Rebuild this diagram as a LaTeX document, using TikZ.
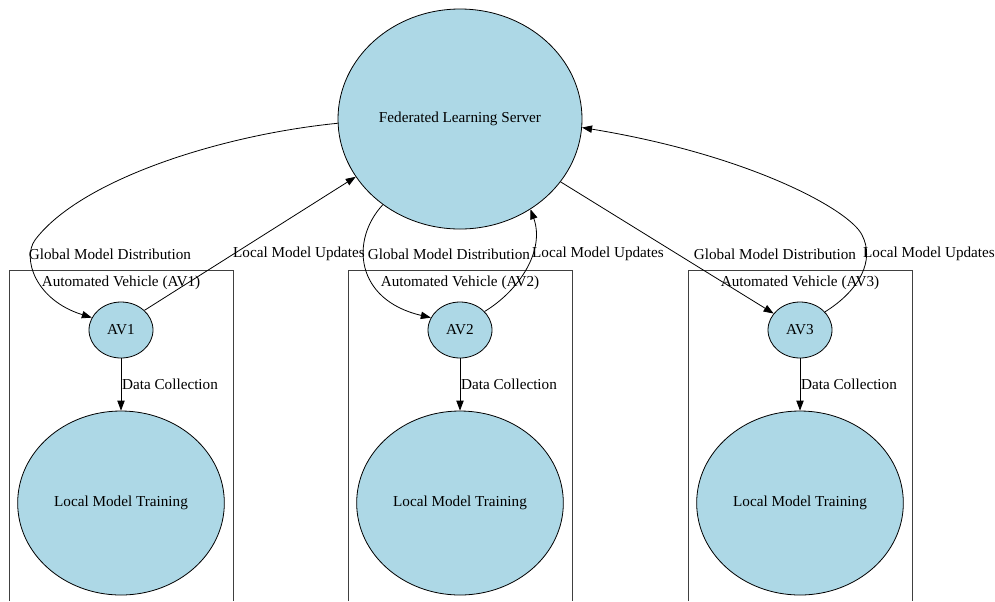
\documentclass[tikz,border=0pt]{standalone}
\usepackage{fontspec}
\setmainfont{Liberation Serif}
\usepackage{tikz}
\usetikzlibrary{arrows.meta,shapes.geometric}
\definecolor{nodeblue}{RGB}{173,216,230}
\tikzset{
    basenode/.style = {
        ellipse,
        align=center,
        draw=black,
        fill=nodeblue,
        line width=0.6pt,
        inner sep=0pt,
        font=\rmfamily\fontsize{11.4}{13}\selectfont
    },
    servernode/.style = {
        basenode,
        minimum width=183pt,
        minimum height=165pt
    },
    avnode/.style = {
        basenode,
        minimum width=48pt,
        minimum height=42pt
    },
    trainnode/.style = {
        basenode,
        minimum width=155pt,
        minimum height=138pt
    },
    edgelabel/.style = {
        inner sep=1pt,
        font=\rmfamily\fontsize{11.4}{13}\selectfont
    },
    flow/.style = {
        line width=0.6pt,
        -{Triangle[length=7.5pt,width=5.5pt]}
    },
    clusterbox/.style = {
        draw=black!75,
        line width=0.7pt
    }
}
\begin{document}
\begin{tikzpicture}[x=0.75pt, y=-0.75pt]
    \useasboundingbox (0,0) rectangle (995,601);
    % vehicle clusters
    \foreach \i/\cx in {1/121, 2/460, 3/800} {
        \draw[clusterbox] (\cx-112,601) -- (\cx-112,270) -- (\cx+112,270) -- (\cx+112,601);
        \node[edgelabel] (clabel\i) at (\cx,283) {Automated Vehicle (AV\i)};
        \node[avnode] (av\i) at (\cx,330) {AV\i};
        \node[trainnode] (train\i) at (\cx,503) {Local Model Training};
        \draw[flow] (av\i) -- node[edgelabel, right, inner sep=0.5pt] {Data Collection} (train\i);
    }
    \node[servernode] (server) at (460,119) {Federated Learning Server};
    % edge labels
    \node[edgelabel] (glob1) at (110,254) {Global Model Distribution};
    \node[edgelabel] (loc1) at (299,254) {Local Model Updates};
    \node[edgelabel] (glob2) at (449,254) {Global Model Distribution};
    \node[edgelabel] (loc2) at (598,254) {Local Model Updates};
    \node[edgelabel] (glob3) at (775,254) {Global Model Distribution};
    \node[edgelabel] (loc3) at (929,254) {Local Model Updates};
    % server <-> vehicles
    \draw[flow] (server.182) .. controls (220,135) and (80,180) .. (35,240)
        .. controls (22,258) and (35,300) .. (av1.157);
    \draw[flow] (av1.40) -- (server.209);
    \draw[flow] (server.228) .. controls (350,240) and (355,300) .. (av2.157);
    \draw[flow] (av2.37) .. controls (520,290) and (545,250) .. (server.308);
    \draw[flow] (server.328) -- (av3.148);
    \draw[flow] (av3.36) .. controls (860,290) and (875,260) .. (862,235)
        .. controls (850,210) and (750,155) .. (server.356);
\end{tikzpicture}
\end{document}
